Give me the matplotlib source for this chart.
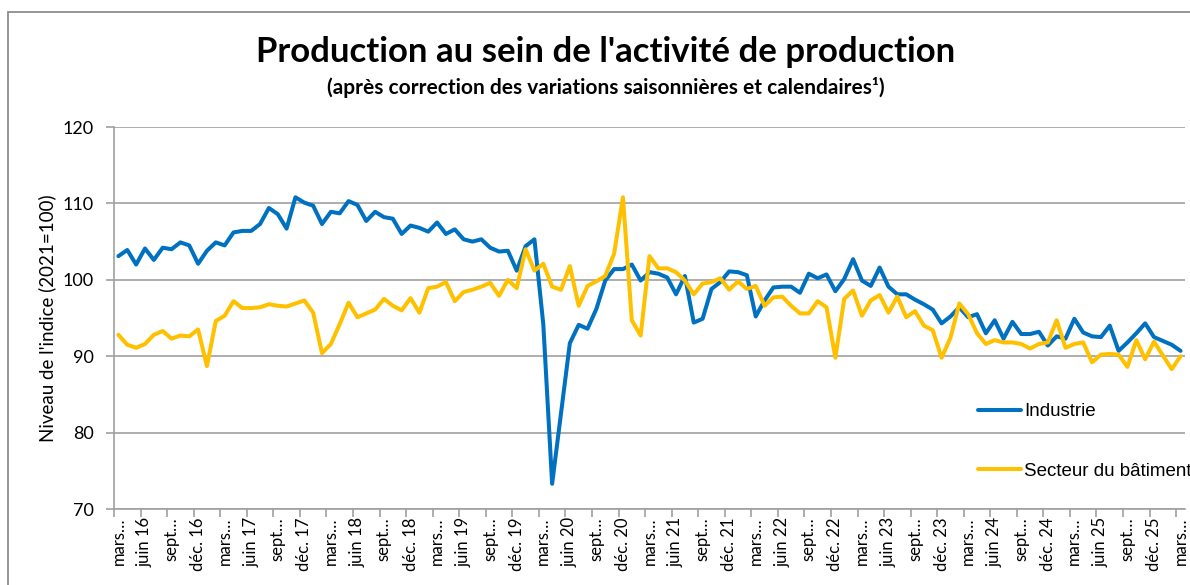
import matplotlib
matplotlib.use("Agg")
import matplotlib.pyplot as plt
from matplotlib.patches import Rectangle
from matplotlib.ticker import FixedLocator

plt.rcParams['font.family'] = ['Lato', 'DejaVu Sans']

tick_labels = [
    "mars…", "juin 16", "sept…", "déc. 16",
    "mars…", "juin 17", "sept…", "déc. 17",
    "mars…", "juin 18", "sept…", "déc. 18",
    "mars…", "juin 19", "sept…", "déc. 19",
    "mars…", "juin 20", "sept…", "déc. 20",
    "mars…", "juin 21", "sept…", "déc. 21",
    "mars…", "juin 22", "sept…", "déc. 22",
    "mars…", "juin 23", "sept…", "déc. 23",
    "mars…", "juin 24", "sept…", "déc. 24",
    "mars…", "juin 25", "sept…", "déc. 25",
    "mars…",
]

industrie = [
    103.1, 103.9, 102.0, 104.1, 102.6, 104.2, 104.0, 104.9, 104.5, 102.1,
    103.8, 104.9, 104.5, 106.2, 106.4, 106.4, 107.3, 109.4, 108.6, 106.7,
    110.8, 110.1, 109.7, 107.3, 108.9, 108.7, 110.3, 109.8, 107.7, 108.9,
    108.2, 108.0, 106.0, 107.1, 106.8, 106.3, 107.5, 106.0, 106.6, 105.3,
    105.0, 105.3, 104.2, 103.7, 103.8, 101.2, 104.4, 105.3, 94.2, 73.3,
    82.5, 91.7, 94.1, 93.6, 96.2, 99.9, 101.4, 101.4, 102.0, 99.9,
    101.0, 100.8, 100.3, 98.1, 100.5, 94.4, 94.9, 98.8, 99.7, 101.1,
    101.0, 100.6, 95.2, 97.3, 99.0, 99.1, 99.1, 98.3, 100.8, 100.2,
    100.7, 98.5, 100.1, 102.7, 99.9, 99.2, 101.6, 99.1, 98.1, 98.1,
    97.4, 96.8, 96.1, 94.3, 95.2, 96.4, 95.1, 95.5, 93.0, 94.7,
    92.3, 94.5, 92.9, 92.9, 93.2, 91.4, 92.6, 92.3, 94.9, 93.1,
    92.6, 92.5, 94.0, 90.7, 91.8, 93.0, 94.3, 92.5, 92.0, 91.5,
    90.7,
]

batiment = [
    92.8, 91.5, 91.1, 91.6, 92.8, 93.3, 92.3, 92.7, 92.6, 93.5,
    88.7, 94.6, 95.3, 97.2, 96.3, 96.3, 96.4, 96.8, 96.6, 96.5,
    96.9, 97.3, 95.7, 90.4, 91.6, 94.2, 97.0, 95.1, 95.6, 96.1,
    97.5, 96.6, 96.0, 97.6, 95.7, 98.9, 99.1, 99.7, 97.2, 98.4,
    98.7, 99.1, 99.6, 97.9, 100.0, 98.9, 104.0, 101.2, 102.1, 99.1,
    98.7, 101.8, 96.6, 99.2, 99.8, 100.5, 103.4, 110.8, 94.7, 92.7,
    103.1, 101.5, 101.5, 101.0, 99.9, 98.1, 99.5, 99.7, 100.2, 98.7,
    99.8, 98.8, 99.2, 96.6, 97.7, 97.8, 96.6, 95.6, 95.6, 97.2,
    96.4, 89.8, 97.5, 98.6, 95.3, 97.3, 98.0, 95.7, 97.8, 95.1,
    95.9, 94.0, 93.4, 89.8, 92.4, 96.9, 95.5, 93.0, 91.6, 92.1,
    91.8, 91.8, 91.6, 91.0, 91.6, 91.8, 94.7, 91.1, 91.6, 91.8,
    89.2, 90.2, 90.3, 90.2, 88.6, 92.1, 89.6, 91.9, 90.1, 88.3,
    90.0,
]

series_names = ["Industrie", "Secteur du bâtiment"]

W, H = 1190, 585
fig = plt.figure(figsize=(W / 100, H / 100), dpi=100)
fig.patch.set_facecolor("white")

# outer chart border (extends beyond the right/bottom edges)
fig.patches.append(Rectangle((8 / W, -0.1), 1.2, 1 - 12 / H + 0.1,
                             transform=fig.transFigure, fill=False,
                             edgecolor="#8c8c8c", linewidth=1.3, clip_on=False))

left, right, top, bottom = 114, 1185, 127, 509
ax = fig.add_axes([left / W, 1 - bottom / H, (right - left) / W, (bottom - top) / H])

x = list(range(len(industrie)))
ax.plot(x, industrie, color="#0070C0", linewidth=2.9, label=series_names[0],
        solid_joinstyle="round", solid_capstyle="round", zorder=3)
ax.plot(x, batiment, color="#FFC000", linewidth=2.9, label=series_names[1],
        solid_joinstyle="round", solid_capstyle="round", zorder=3)

ax.set_xlim(-0.5, len(industrie) - 0.5)
ax.set_ylim(70, 120)
ax.set_yticks([70, 80, 90, 100, 110, 120])
ax.grid(axis="y", color="#a0a0a0", linewidth=1.2, zorder=0)
ax.set_axisbelow(True)

for s in ["top", "right"]:
    ax.spines[s].set_visible(False)
for s in ["left", "bottom"]:
    ax.spines[s].set_color("#a0a0a0")
    ax.spines[s].set_linewidth(1.2)

pos = list(range(0, len(industrie), 3))
ax.set_xticks(pos)
ax.set_xticklabels(tick_labels, rotation=90, fontsize=12, va="top", ha="center")
ax.xaxis.set_minor_locator(FixedLocator([p - 0.5 for p in pos]))
ax.tick_params(axis="x", which="major", length=0, pad=6)
ax.tick_params(axis="x", which="minor", length=6, color="#a0a0a0", width=1.2)
ax.tick_params(axis="y", length=6, color="#a0a0a0", width=1.2, labelsize=13, pad=8.5)

ax.set_ylabel("Niveau de l'indice (2021=100)", fontsize=13.5, labelpad=5)

fig.text(606 / W, 1 - 52 / H, "Production au sein de l'activité de production",
         ha="center", va="center", fontsize=25, fontweight="bold")
fig.text(606 / W, 1 - 88 / H,
         "(après correction des variations saisonnières et calendaires¹)",
         ha="center", va="center", fontsize=15, fontweight="bold")

leg = ax.legend(loc="upper left", bbox_to_anchor=(978 / W, 1 - 403 / H),
                bbox_transform=fig.transFigure, frameon=False,
                prop={"family": ["Liberation Sans", "DejaVu Sans"], "size": 13.5},
                handlelength=2.3, handletextpad=0.16, labelspacing=2.28,
                borderpad=0, borderaxespad=0)

fig.savefig("out.png", dpi=100)
